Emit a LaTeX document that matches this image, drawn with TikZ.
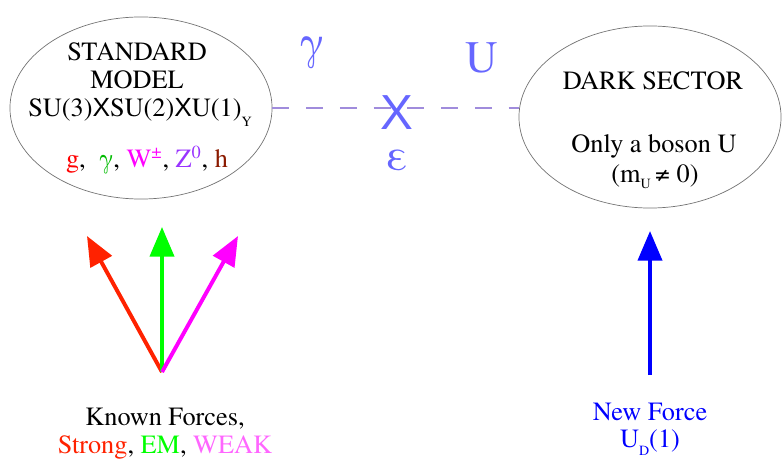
\documentclass[tikz,border=0pt]{standalone}
\usepackage{fontspec}
\newfontfamily\serifT{texgyretermes-regular.otf}
\newfontfamily\sansX{Liberation Sans}
\usetikzlibrary{arrows.meta,shapes.geometric}
\definecolor{smRed}{HTML}{FF2200}
\definecolor{smGreen}{HTML}{00FF00}
\definecolor{smGamma}{HTML}{00BB00}
\definecolor{smMagenta}{HTML}{FF00FF}
\definecolor{smWeak}{HTML}{FF66FF}
\definecolor{smViolet}{HTML}{9933FF}
\definecolor{smBrown}{HTML}{8B1A00}
\definecolor{mixBlue}{HTML}{6666FF}
\definecolor{mixLine}{HTML}{A08CDC}
\newcommand{\lowsub}[2]{\raisebox{#1}{\fontsize{10}{10}\selectfont #2}}

\begin{document}
\begin{tikzpicture}[x=0.025cm,y=-0.025cm,
    font=\serifT\fontsize{18.7}{21}\selectfont,
    blob/.style={ellipse,draw=black!55,line width=0.5pt,
                 minimum width=6.55cm,minimum height=4.55cm,inner sep=0pt},
    txt/.style={anchor=base,inner sep=0pt},
    coupling/.style={anchor=base,inner sep=0pt,text=mixBlue,
                     font=\serifT\fontsize{32}{32}\selectfont},
    force/.style={line width=2.8pt,
                  -{Triangle[length=21pt,width=17pt]}}]

  \useasboundingbox (0,0) rectangle (782,459);

  % the two sectors
  \node[blob] (sm) at (141,108) {};
  \node[blob] (ds) at (650,117) {};

  \node[txt] (smA) at (137,61) {STANDARD};
  \node[txt] (smB) at (137,89) {MODEL};
  \node[txt] (smC) at (140,117)
    {SU(3){\sansX X}SU(2){\sansX X}U(1)\lowsub{-7pt}{Y}};
  \node[txt] (smD) at (147,167)
    {{\color{red}g},\ \ {\color{smGamma}γ}, {\color{smMagenta}W\textsuperscript{±}},
     {\color{smViolet}Z\textsuperscript{0}}, {\color{smBrown}h}};

  \node[txt] (dsA) at (653,90) {DARK SECTOR};
  \node[txt] (dsB) at (654,153) {Only a boson U};
  \node[txt] (dsC) at (655,183) {(m\lowsub{-4pt}{U}\,≠ 0)};

  % kinetic mixing
  \draw[mixLine,line width=0.8pt,dash pattern=on 12pt off 12pt]
    (sm.east) -- (sm.east -| ds.west);
  \node[coupling] (gam) at (312,58) {γ};
  \node[coupling] (uu) at (482,73) {U};
  \node[coupling] (eps) at (397,171) {ε};
  \node[coupling,font=\sansX\fontsize{35}{35}\selectfont] (mix) at (397,130) {X};

  % forces
  \coordinate (known) at (162,372);
  \coordinate (tipS) at (87,236);
  \coordinate (tipE) at (162,227);
  \coordinate (tipW) at (238,236);
  \draw[force,smRed] (known) -- (tipS);
  \draw[force,smGreen] (known) -- (tipE);
  \draw[force,smMagenta] (known) -- (tipW);

  \coordinate (newf) at (650,375);
  \coordinate (tipU) at (650,231);
  \draw[force,blue] (newf) -- (tipU);

  \node[txt] (kfA) at (165,425) {Known Forces,};
  \node[txt] (kfB) at (165,453)
    {{\color{smRed}Strong}, {\color{smGreen}EM}, {\color{smWeak}WEAK}};
  \node[txt,text=blue] (nfA) at (650,420) {New Force};
  \node[txt,text=blue] (nfB) at (650,447) {U\lowsub{-6pt}{D}(1)};
\end{tikzpicture}
\end{document}
